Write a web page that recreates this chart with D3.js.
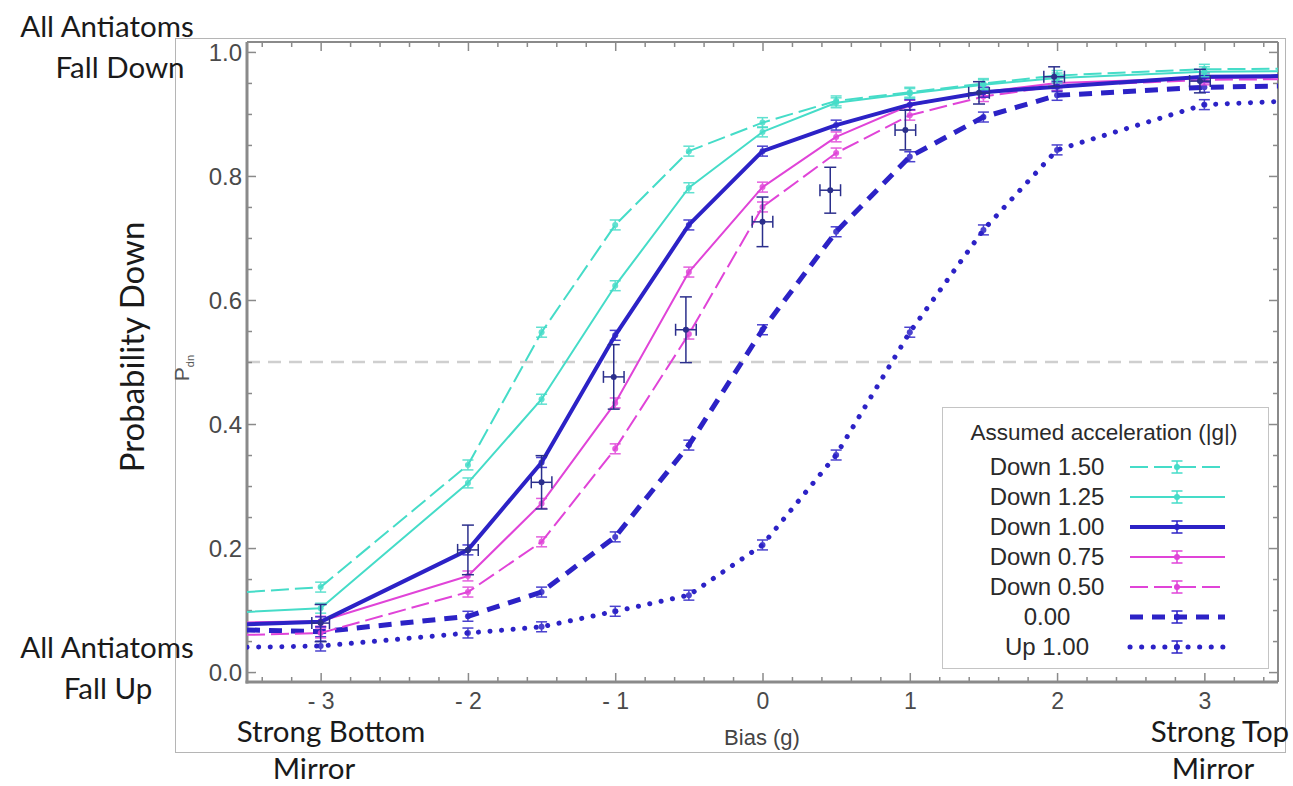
<!DOCTYPE html>
<html><head><meta charset="utf-8">
<script src="https://cdn.jsdelivr.net/npm/d3@7"></script>
<style>body{margin:0;background:#fff}svg{display:block}</style>
</head><body>
<script>
// ---------------- data ----------------
const xGrid = [-3.5, -3, -2, -1.5, -1, -0.5, 0, 0.5, 1, 1.5, 2, 3, 3.5];
const seriesNames = ["Down 1.50", "Down 1.25", "Down 1.00", "Down 0.75", "Down 0.50", "0.00", "Up 1.00"];
const down150 = [0.129, 0.137, 0.334, 0.548, 0.721, 0.840, 0.886, 0.921, 0.935, 0.949, 0.962, 0.972, 0.973];
const down125 = [0.097, 0.103, 0.305, 0.440, 0.623, 0.781, 0.871, 0.918, 0.933, 0.947, 0.958, 0.968, 0.969];
const down100 = [0.077, 0.081, 0.197, 0.338, 0.543, 0.721, 0.840, 0.882, 0.915, 0.935, 0.944, 0.960, 0.961];
const down075 = [0.080, 0.082, 0.155, 0.272, 0.434, 0.645, 0.782, 0.863, 0.914, 0.935, 0.950, 0.958, 0.959];
const down050 = [0.060, 0.063, 0.129, 0.210, 0.360, 0.545, 0.750, 0.837, 0.898, 0.928, 0.945, 0.955, 0.956];
const zero000 = [0.068, 0.065, 0.090, 0.129, 0.218, 0.366, 0.552, 0.710, 0.831, 0.895, 0.930, 0.943, 0.945];
const up100   = [0.040, 0.042, 0.063, 0.073, 0.098, 0.124, 0.205, 0.350, 0.548, 0.713, 0.842, 0.915, 0.920];
const modelErr = 0.008;

// measured points
const measX    = [-3, -2, -1.5, -1.01, -0.52, 0, 0.46, 0.97, 1.47, 1.98, 2.97];
const measY    = [0.079, 0.197, 0.306, 0.476, 0.552, 0.726, 0.777, 0.874, 0.934, 0.960, 0.953];
const measYErr = [0.030, 0.040, 0.043, 0.052, 0.053, 0.040, 0.037, 0.032, 0.018, 0.016, 0.019];
const measXErr = [0.06, 0.07, 0.07, 0.07, 0.07, 0.07, 0.07, 0.07, 0.07, 0.07, 0.07];

const xTicks = [-3, -2, -1, 0, 1, 2, 3];
const xTickLabels = ["- 3", "- 2", "- 1", "0", "1", "2", "3"];
const yTicks = [0, 0.2, 0.4, 0.6, 0.8, 1.0];
const yTickLabels = ["0.0", "0.2", "0.4", "0.6", "0.8", "1.0"];

// ---------------- styling ----------------
const CYAN = "#45dcc8", MAG = "#e044d8", NAVY = "#2c22c6", DARK = "#2b2f8c";
const styles = [
  {c: CYAN, w: 2, dash: "18,6", cap: "butt"},
  {c: CYAN, w: 2, dash: null, cap: "butt"},
  {c: NAVY, w: 4, dash: null, cap: "butt"},
  {c: MAG, w: 2, dash: null, cap: "butt"},
  {c: MAG, w: 2, dash: "18,6", cap: "butt"},
  {c: NAVY, w: 5, dash: "13,9", cap: "butt"},
  {c: NAVY, w: 5, dash: "0.1,11.5", cap: "round"}
];
const allSeries = [down150, down125, down100, down075, down050, zero000, up100];

const W = 1293, H = 786;
const L = 247, R = 1278, T = 42, B = 682;
const SANS = "Liberation Sans, Arial, sans-serif";
const HUM = "Lato, 'Open Sans', sans-serif";
const svg = d3.select("body").append("svg").attr("width", W).attr("height", H);
const x = d3.scaleLinear().domain([-3.5, 3.5]).range([L, R]);
const y = d3.scaleLinear().domain([-0.016, 1.016]).range([B, T]);

// outer frame
svg.append("rect").attr("x", 175.5).attr("y", 38.5).attr("width", 1110).attr("height", 714)
  .attr("fill", "none").attr("stroke", "#b5b5b5").attr("stroke-width", 1);

svg.append("defs").append("clipPath").attr("id", "clip")
  .append("rect").attr("x", L).attr("y", T).attr("width", R - L).attr("height", B - T);

// 0.5 guide
svg.append("line").attr("x1", L).attr("x2", R).attr("y1", y(0.5)).attr("y2", y(0.5))
  .attr("stroke", "#cfcfcf").attr("stroke-width", 2.5).attr("stroke-dasharray", "13,8");

// axes (ticks inward on all sides)
const axCol = "#8a8a8a";
const xMinor = d3.range(-17, 18).map(k => k / 5).filter(v => Math.abs(v - Math.round(v)) > 1e-6);
const yMinor = d3.range(1, 20).map(k => k / 20).filter(v => k5(v));
function k5(v) { return Math.abs(v * 5 - Math.round(v * 5)) > 1e-6; }

const gx = svg.append("g").attr("transform", `translate(0,${B})`)
  .call(d3.axisBottom(x).tickValues(xTicks).tickSize(-9).tickPadding(11).tickFormat((d, i) => xTickLabels[i]));
const gxm = svg.append("g").attr("transform", `translate(0,${B})`)
  .call(d3.axisBottom(x).tickValues(xMinor).tickSize(-5).tickFormat(""));
const gxt = svg.append("g").attr("transform", `translate(0,${T})`)
  .call(d3.axisTop(x).tickValues(xTicks).tickSize(-9).tickFormat(""));
const gxtm = svg.append("g").attr("transform", `translate(0,${T})`)
  .call(d3.axisTop(x).tickValues(xMinor).tickSize(-5).tickFormat(""));
const gy = svg.append("g").attr("transform", `translate(${L},0)`)
  .call(d3.axisLeft(y).tickValues(yTicks).tickSize(-9).tickPadding(5).tickFormat((d, i) => yTickLabels[i]));
const gym = svg.append("g").attr("transform", `translate(${L},0)`)
  .call(d3.axisLeft(y).tickValues(yMinor).tickSize(-5).tickFormat(""));
const gyr = svg.append("g").attr("transform", `translate(${R},0)`)
  .call(d3.axisRight(y).tickValues(yTicks).tickSize(-9).tickFormat(""));
const gyrm = svg.append("g").attr("transform", `translate(${R},0)`)
  .call(d3.axisRight(y).tickValues(yMinor).tickSize(-5).tickFormat(""));
[gx, gxm, gxt, gxtm, gy, gym, gyr, gyrm].forEach(g => {
  g.select(".domain").remove();
  g.selectAll(".tick line").attr("stroke", axCol).attr("stroke-width", 1.5);
  g.selectAll("text").attr("fill", "#4a4a4a").attr("font-family", SANS);
});
gx.selectAll("text").attr("font-size", 23);
gy.selectAll("text").attr("font-size", 24).attr("dy", "0.36em");
// frame
svg.append("line").attr("x1", L).attr("x2", L).attr("y1", T).attr("y2", B + 1.5).attr("stroke", axCol).attr("stroke-width", 3);
svg.append("line").attr("x1", L - 1.5).attr("x2", R).attr("y1", B).attr("y2", B).attr("stroke", axCol).attr("stroke-width", 3);
svg.append("line").attr("x1", L).attr("x2", R).attr("y1", T).attr("y2", T).attr("stroke", axCol).attr("stroke-width", 2);
svg.append("line").attr("x1", R).attr("x2", R).attr("y1", T).attr("y2", B).attr("stroke", axCol).attr("stroke-width", 2);

// series
const plot = svg.append("g").attr("clip-path", "url(#clip)");
const line = d3.line().x(d => x(d[0])).y(d => y(d[1]));
function errMarker(g, cx, cy, col, yErrPx, xErrPx, cap, r) {
  g.append("line").attr("x1", cx).attr("x2", cx).attr("y1", cy - yErrPx).attr("y2", cy + yErrPx).attr("stroke", col).attr("stroke-width", 1.5);
  g.append("line").attr("x1", cx - cap).attr("x2", cx + cap).attr("y1", cy - yErrPx).attr("y2", cy - yErrPx).attr("stroke", col).attr("stroke-width", 1.5);
  g.append("line").attr("x1", cx - cap).attr("x2", cx + cap).attr("y1", cy + yErrPx).attr("y2", cy + yErrPx).attr("stroke", col).attr("stroke-width", 1.5);
  if (xErrPx) {
    g.append("line").attr("x1", cx - xErrPx).attr("x2", cx + xErrPx).attr("y1", cy).attr("y2", cy).attr("stroke", col).attr("stroke-width", 1.5);
    g.append("line").attr("x1", cx - xErrPx).attr("x2", cx - xErrPx).attr("y1", cy - cap).attr("y2", cy + cap).attr("stroke", col).attr("stroke-width", 1.5);
    g.append("line").attr("x1", cx + xErrPx).attr("x2", cx + xErrPx).attr("y1", cy - cap).attr("y2", cy + cap).attr("stroke", col).attr("stroke-width", 1.5);
  }
  g.append("circle").attr("cx", cx).attr("cy", cy).attr("r", r).attr("fill", col);
}
// draw back-to-front
for (let i = allSeries.length - 1; i >= 0; i--) {
  const s = styles[i];
  const pts = xGrid.map((xv, k) => [xv, allSeries[i][k]]);
  plot.append("path").datum(pts).attr("d", line).attr("fill", "none")
    .attr("stroke", s.c).attr("stroke-width", s.w).attr("stroke-linecap", s.cap)
    .attr("stroke-linejoin", "round")
    .attr("stroke-dasharray", s.dash);
  const mg = plot.append("g").attr("opacity", 0.85);
  pts.filter(p => Math.abs(p[0]) <= 3).forEach(p => {
    const cy = y(p[1]);
    errMarker(mg, x(p[0]), cy, s.c, y(p[1] - modelErr) - cy, 0, 5.5, 3);
  });
}
// measured data
const md = plot.append("g");
measX.forEach((xv, k) => {
  const cx = x(xv), cy = y(measY[k]);
  errMarker(md, cx, cy, DARK, y(measY[k] - measYErr[k]) - cy, x(xv + measXErr[k]) - cx, 6, 3);
});

// legend
const lg = svg.append("g");
lg.append("rect").attr("x", 942.5).attr("y", 407.5).attr("width", 326).attr("height", 261)
  .attr("fill", "#fff").attr("stroke", "#c4c4c4").attr("stroke-width", 1);
lg.append("text").attr("x", 1104).attr("y", 440).attr("text-anchor", "middle")
  .attr("font-family", SANS).attr("font-size", 22.5).attr("fill", "#2a2a2a")
  .text("Assumed acceleration (|g|)");
seriesNames.forEach((nm, i) => {
  const cy = 467 + i * 30;
  lg.append("text").attr("x", 1047).attr("y", cy + 8).attr("text-anchor", "middle")
    .attr("font-family", SANS).attr("font-size", 24).attr("fill", "#2a2a2a").text(nm);
  const s = styles[i];
  lg.append("line").attr("x1", 1130).attr("x2", 1225).attr("y1", cy).attr("y2", cy)
    .attr("stroke", s.c).attr("stroke-width", s.w).attr("stroke-linecap", s.cap).attr("stroke-dasharray", s.dash);
  errMarker(lg, 1177, cy, s.c, 6, 0, 5.5, 3);
});

// annotations
const ann = (t, xx, yy, size, anchor) => svg.append("text").attr("x", xx).attr("y", yy)
  .attr("font-family", HUM).attr("font-size", size).attr("fill", "#1a1a1a")
  .attr("text-anchor", anchor || "start").text(t);
ann("All Antiatoms", 107, 37, 29.5, "middle");
ann("Fall Down", 120, 78, 29.5, "middle");
ann("All Antiatoms", 107, 658, 29.5, "middle");
ann("Fall Up", 108, 699, 29.5, "middle");
ann("Strong Bottom", 331, 742, 29.5, "middle");
ann("Mirror", 314, 779, 29.5, "middle");
ann("Strong Top", 1220, 742, 29.5, "middle");
ann("Mirror", 1213, 779, 29.5, "middle");
svg.append("text").attr("transform", "translate(144,347) rotate(-90)").attr("text-anchor", "middle")
  .attr("font-family", HUM).attr("font-size", 33).attr("fill", "#1a1a1a")
  .text("Probability Down");
const pd = svg.append("text").attr("transform", "translate(189,368) rotate(-90)").attr("text-anchor", "middle")
  .attr("font-family", SANS).attr("font-size", 21).attr("fill", "#555");
pd.append("tspan").text("P");
pd.append("tspan").attr("font-size", 11).attr("dy", 5).text("dn");
svg.append("text").attr("x", 762).attr("y", 745).attr("text-anchor", "middle")
  .attr("font-family", SANS).attr("font-size", 22).attr("fill", "#444")
  .text("Bias (g)");
</script>
</body></html>
